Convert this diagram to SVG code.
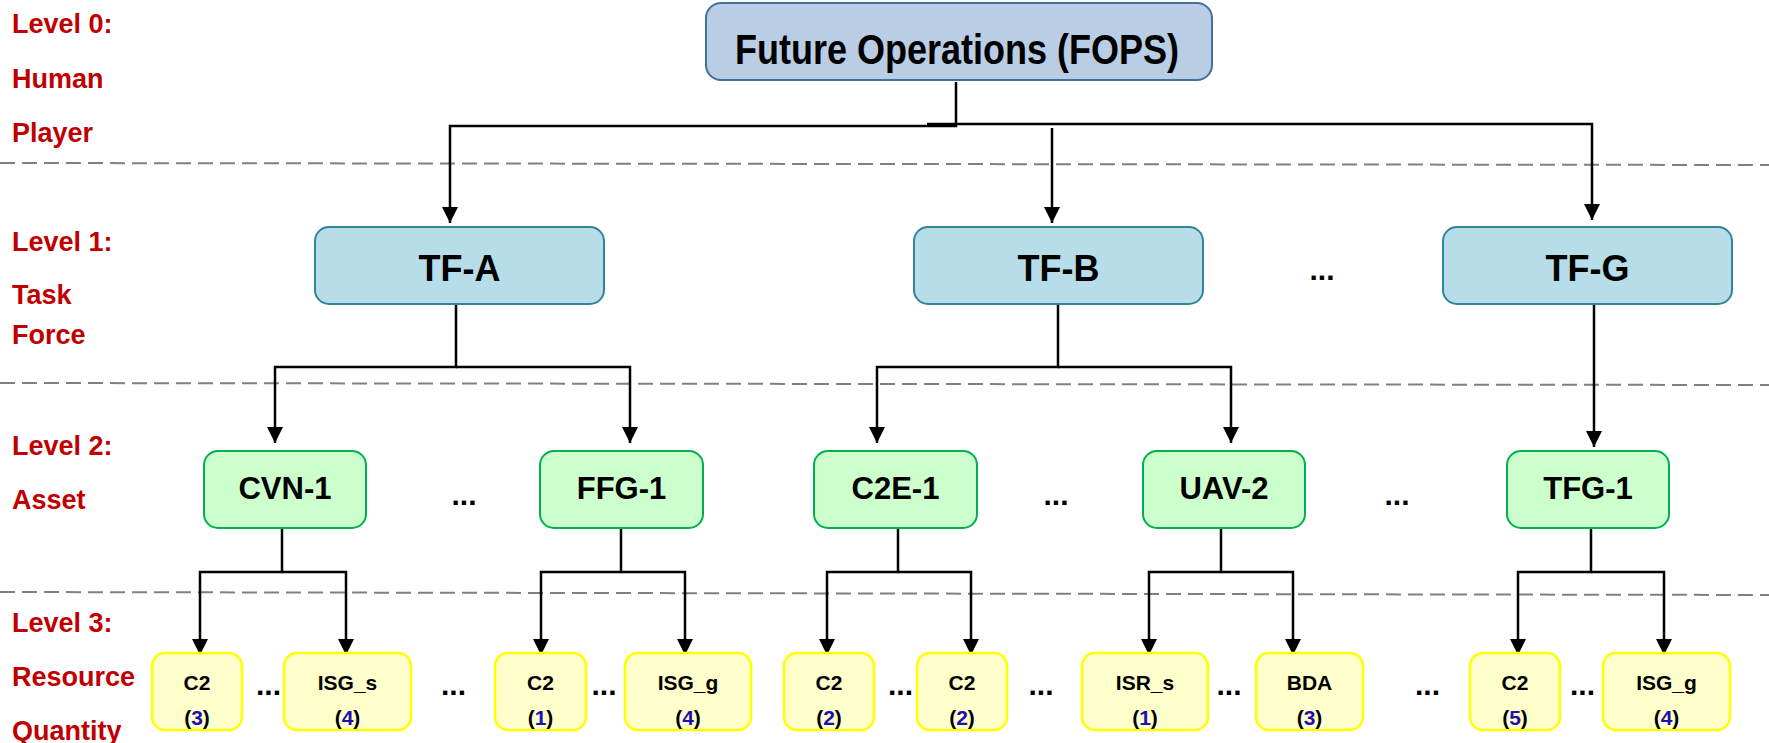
<svg xmlns="http://www.w3.org/2000/svg" width="1769" height="743" viewBox="0 0 1769 743">
<defs>
<marker id="arr" markerUnits="userSpaceOnUse" markerWidth="16" markerHeight="16" refX="16" refY="8" orient="auto">
<path d="M0,0 L16,8 L0,16 z" fill="#000"/>
</marker>
<style>
text{font-family:"Liberation Sans",Arial,sans-serif;font-weight:bold;}
.lvl{fill:#c00000;font-size:27px;}
.dash{stroke:#808080;stroke-width:2;stroke-dasharray:15 7;fill:none;}
.con{stroke:#000;stroke-width:2.5;fill:none;}
.arr{marker-end:url(#arr);}
.l0{fill:#b9cde5;stroke:#41719c;stroke-width:2;}
.l1{fill:#b7dde8;stroke:#31849b;stroke-width:2;}
.l2{fill:#ccffcc;stroke:#00b050;stroke-width:2;}
.l3{fill:#ffffcc;stroke:#ffff00;stroke-width:2.5;}
.t1{font-size:36px;fill:#000;text-anchor:middle;}
.t2{font-size:31px;fill:#000;text-anchor:middle;}
.t3{font-size:21px;fill:#000;text-anchor:middle;}
.dots{font-size:30px;fill:#000;text-anchor:middle;}
.num{fill:#2010b0;}
</style>
</defs>
<rect width="1769" height="743" fill="#fff"/>

<g id="level-labels">
<text class="lvl" x="12" y="33">Level 0:</text>
<text class="lvl" x="12" y="88">Human</text>
<text class="lvl" x="12" y="142">Player</text>
<text class="lvl" x="12" y="251">Level 1:</text>
<text class="lvl" x="12" y="304">Task</text>
<text class="lvl" x="12" y="344">Force</text>
<text class="lvl" x="12" y="455">Level 2:</text>
<text class="lvl" x="12" y="509">Asset</text>
<text class="lvl" x="12" y="632">Level 3:</text>
<text class="lvl" x="12" y="686">Resource</text>
<text class="lvl" x="12" y="740">Quantity</text>
</g>

<g id="separators">
<line class="dash" x1="0" y1="163" x2="1769" y2="165"/>
<line class="dash" x1="0" y1="383" x2="1769" y2="385"/>
<line class="dash" x1="0" y1="592" x2="1769" y2="595"/>
</g>

<g id="connectors">
<path class="con arr" d="M956,82 V126 H450 V223"/>
<path class="con arr" d="M927,124 H1592 V220"/>
<path class="con arr" d="M1052,128 V223"/>
<path class="con arr" d="M456,304 V367 H275 V443"/>
<path class="con arr" d="M456,367 H630 V443"/>
<path class="con arr" d="M1058,304 V367 H877 V443"/>
<path class="con arr" d="M1058,367 H1231 V443"/>
<path class="con arr" d="M1594,304 V447"/>
<path class="con arr" d="M282,528 V572 H200 V655"/>
<path class="con arr" d="M282,572 H346 V655"/>
<path class="con arr" d="M621,528 V572 H541 V655"/>
<path class="con arr" d="M621,572 H685 V655"/>
<path class="con arr" d="M898,528 V572 H827 V655"/>
<path class="con arr" d="M898,572 H971 V655"/>
<path class="con arr" d="M1221,528 V572 H1149 V655"/>
<path class="con arr" d="M1221,572 H1293 V655"/>
<path class="con arr" d="M1591,528 V572 H1518 V655"/>
<path class="con arr" d="M1591,572 H1664 V655"/>
</g>

<g id="fops">
<rect class="l0" x="706" y="3" width="506" height="77" rx="15"/>
<text x="957" y="64" font-size="42" text-anchor="middle" textLength="444" lengthAdjust="spacingAndGlyphs">Future Operations (FOPS)</text>
</g>

<g id="tf-a">
<rect class="l1" x="315" y="227" width="289" height="77" rx="14"/>
<text class="t1" x="459.5" y="281">TF-A</text>
</g>
<g id="tf-b">
<rect class="l1" x="914" y="227" width="289" height="77" rx="14"/>
<text class="t1" x="1058.5" y="281">TF-B</text>
</g>
<g id="tf-dots">
<text class="dots" x="1322" y="280">...</text>
</g>
<g id="tf-g">
<rect class="l1" x="1443" y="227" width="289" height="77" rx="14"/>
<text class="t1" x="1587.5" y="281">TF-G</text>
</g>

<g id="cvn-1">
<rect class="l2" x="204" y="451" width="162" height="77" rx="14"/>
<text class="t2" x="285" y="499">CVN-1</text>
</g>
<g id="ffg-1">
<rect class="l2" x="540" y="451" width="163" height="77" rx="14"/>
<text class="t2" x="621.5" y="499">FFG-1</text>
</g>
<g id="c2e-1">
<rect class="l2" x="814" y="451" width="163" height="77" rx="14"/>
<text class="t2" x="895.5" y="499">C2E-1</text>
</g>
<g id="uav-2">
<rect class="l2" x="1143" y="451" width="162" height="77" rx="14"/>
<text class="t2" x="1224" y="499">UAV-2</text>
</g>
<g id="tfg-1">
<rect class="l2" x="1507" y="451" width="162" height="77" rx="14"/>
<text class="t2" x="1588" y="499">TFG-1</text>
</g>
<g id="asset-dots">
<text class="dots" x="464" y="505">...</text>
<text class="dots" x="1056" y="505">...</text>
<text class="dots" x="1397" y="505">...</text>
</g>

<g id="r-c2-3">
<rect class="l3" x="152" y="653" width="90" height="77" rx="13"/>
<text class="t3" x="197" y="690">C2</text>
<text class="t3" x="197" y="725">(<tspan class="num">3</tspan>)</text>
</g>
<g id="r-isg-s-4">
<rect class="l3" x="284" y="653" width="127" height="77" rx="13"/>
<text class="t3" x="347.5" y="690">ISG_s</text>
<text class="t3" x="347.5" y="725">(<tspan class="num">4</tspan>)</text>
</g>
<g id="r-c2-1">
<rect class="l3" x="495" y="653" width="91" height="77" rx="13"/>
<text class="t3" x="540.5" y="690">C2</text>
<text class="t3" x="540.5" y="725">(<tspan class="num">1</tspan>)</text>
</g>
<g id="r-isg-g-4a">
<rect class="l3" x="625" y="653" width="126" height="77" rx="13"/>
<text class="t3" x="688" y="690">ISG_g</text>
<text class="t3" x="688" y="725">(<tspan class="num">4</tspan>)</text>
</g>
<g id="r-c2-2a">
<rect class="l3" x="784" y="653" width="90" height="77" rx="13"/>
<text class="t3" x="829" y="690">C2</text>
<text class="t3" x="829" y="725">(<tspan class="num">2</tspan>)</text>
</g>
<g id="r-c2-2b">
<rect class="l3" x="917" y="653" width="90" height="77" rx="13"/>
<text class="t3" x="962" y="690">C2</text>
<text class="t3" x="962" y="725">(<tspan class="num">2</tspan>)</text>
</g>
<g id="r-isr-s-1">
<rect class="l3" x="1082" y="653" width="126" height="77" rx="13"/>
<text class="t3" x="1145" y="690">ISR_s</text>
<text class="t3" x="1145" y="725">(<tspan class="num">1</tspan>)</text>
</g>
<g id="r-bda-3">
<rect class="l3" x="1256" y="653" width="107" height="77" rx="13"/>
<text class="t3" x="1309.5" y="690">BDA</text>
<text class="t3" x="1309.5" y="725">(<tspan class="num">3</tspan>)</text>
</g>
<g id="r-c2-5">
<rect class="l3" x="1470" y="653" width="90" height="77" rx="13"/>
<text class="t3" x="1515" y="690">C2</text>
<text class="t3" x="1515" y="725">(<tspan class="num">5</tspan>)</text>
</g>
<g id="r-isg-g-4b">
<rect class="l3" x="1603" y="653" width="127" height="77" rx="13"/>
<text class="t3" x="1666.5" y="690">ISG_g</text>
<text class="t3" x="1666.5" y="725">(<tspan class="num">4</tspan>)</text>
</g>
<g id="resource-dots">
<text class="dots" x="268.5" y="695">...</text>
<text class="dots" x="453.5" y="695">...</text>
<text class="dots" x="604" y="695">...</text>
<text class="dots" x="900.5" y="695">...</text>
<text class="dots" x="1041" y="695">...</text>
<text class="dots" x="1229" y="695">...</text>
<text class="dots" x="1427.5" y="695">...</text>
<text class="dots" x="1582.5" y="695">...</text>
</g>
</svg>
